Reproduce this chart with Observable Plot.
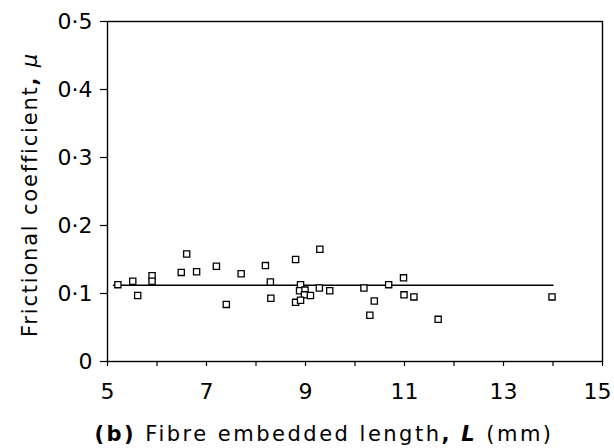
<!DOCTYPE html>
<html><head><meta charset="utf-8">
<script src="https://cdn.jsdelivr.net/npm/d3@7"></script>
<script src="https://cdn.jsdelivr.net/npm/@observablehq/plot@0.6"></script>
<style>
body{margin:0;background:#fff}
#chart svg{font-family:"DejaVu Sans",sans-serif;}
</style>
</head><body><div id="chart"></div>
<script>
// Fibre embedded length L (mm)
const embeddedLength = [5.21, 5.51, 5.61, 5.90, 5.90, 6.49, 6.60, 6.80, 7.20, 7.40, 7.70, 8.19, 8.29, 8.30, 8.80, 8.90, 8.88, 8.99, 8.98, 9.10, 8.80, 8.90, 9.29, 9.28, 9.49, 10.18, 10.39, 10.30, 10.68, 10.98, 10.99, 11.19, 11.68, 13.98];
// Frictional coefficient mu
const frictionCoeff = [0.113, 0.118, 0.097, 0.126, 0.118, 0.131, 0.158, 0.132, 0.140, 0.084, 0.129, 0.141, 0.117, 0.093, 0.150, 0.113, 0.104, 0.105, 0.098, 0.097, 0.087, 0.090, 0.165, 0.108, 0.104, 0.108, 0.089, 0.068, 0.113, 0.123, 0.098, 0.095, 0.062, 0.095];
// Mean (fitted) line
const fitLineX = [5.12, 14.0];
const fitLineY = [0.112, 0.112];
// Ticks
const xTickValues = [5, 6, 7, 8, 9, 10, 11, 12, 13, 14, 15];
const xTickLabels = [5, 7, 9, 11, 13, 15];
const yTickValues = [0, 0.1, 0.2, 0.3, 0.4, 0.5];
const yTickLabels = ["0", "0·1", "0·2", "0·3", "0·4", "0·5"];
const xTitle = "(b) Fibre embedded length, L (mm)";
const yTitle = "Frictional coefficient, μ";

const points = embeddedLength.map((x, i) => ({x, y: frictionCoeff[i]}));
const fit = fitLineX.map((x, i) => ({x, y: fitLineY[i]}));

const chart = Plot.plot({
  width: 614,
  height: 448,
  marginLeft: 107,
  marginRight: 12,
  marginTop: 21,
  marginBottom: 87,
  x: {domain: [5, 15]},
  y: {domain: [0, 0.5]},
  style: {fontFamily: "DejaVu Sans", fontSize: "22px", color: "#000", background: "#fff", overflow: "visible"},
  marks: [
    Plot.frame({stroke: "#000", strokeWidth: 1.4}),
    Plot.axisX({ticks: xTickValues, tickSize: 5, tickPadding: 17, strokeWidth: 1.2,
      tickFormat: d => xTickLabels.includes(d) ? String(d) : "", label: null, fontSize: 22}),
    Plot.axisY({ticks: yTickValues, tickSize: 7, tickPadding: 8, strokeWidth: 1.2,
      tickFormat: d => yTickLabels[yTickValues.indexOf(d)], label: null, fontSize: 22}),
    Plot.lineY(fit, {x: "x", y: "y", stroke: "#000", strokeWidth: 1.5}),
    Plot.dot(points, {x: "x", y: "y", symbol: "square", r: 3.5, stroke: "#000", strokeWidth: 1.3, fill: "#fff"}),
    Plot.text([xTitle], {frameAnchor: "bottom", lineAnchor: "bottom", dy: 79, dx: -31, fontSize: 21, text: d => d}),
    Plot.text([yTitle], {frameAnchor: "left", rotate: -90, textAnchor: "middle", lineAnchor: "middle", dx: -77, dy: 3, fontSize: 21, text: d => d})
  ]
});
document.getElementById("chart").appendChild(chart);

// Rich formatting of the axis titles
d3.select(chart).selectAll("text").each(function() {
  const t = d3.select(this);
  const s = t.text();
  if (s === xTitle) {
    t.text(null).attr("letter-spacing", "2.5px");
    t.append("tspan").attr("font-weight", "bold").text("(b)");
    t.append("tspan").text(" Fibre embedded length");
    t.append("tspan").attr("font-weight", "bold").text(",");
    t.append("tspan").text(" ");
    t.append("tspan").attr("font-style", "italic").attr("font-weight", "bold").text("L");
    t.append("tspan").text(" (mm)");
  } else if (s === yTitle) {
    t.text(null).attr("letter-spacing", "1.8px");
    t.append("tspan").text("Frictional coefficient");
    t.append("tspan").attr("font-weight", "bold").text(",");
    t.append("tspan").text(" ");
    t.append("tspan").attr("font-style", "italic").text("μ");
  } else if (s === "15") {
    t.attr("dx", -5);
  }
});
</script>
</body></html>
